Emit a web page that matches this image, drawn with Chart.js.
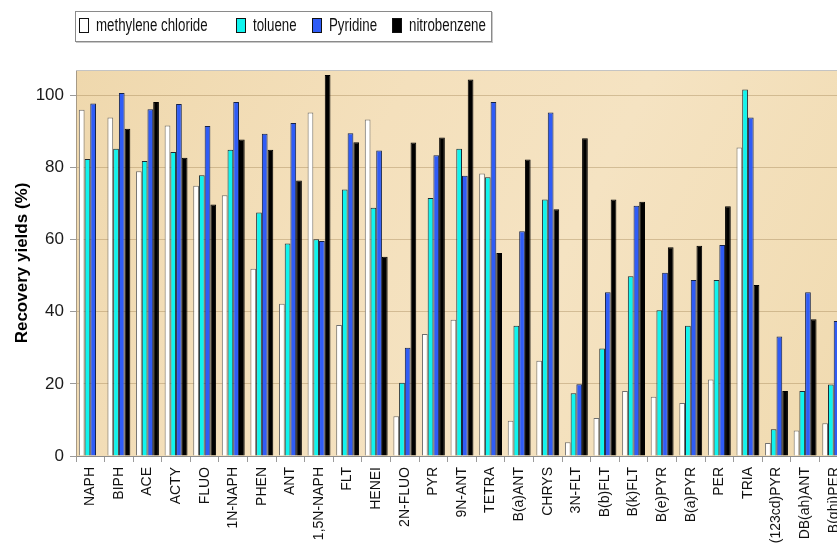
<!DOCTYPE html>
<html>
<head>
<meta charset="utf-8">
<script src="https://cdn.jsdelivr.net/npm/chart.js@4/dist/chart.umd.min.js"></script>
<style>
  html, body { margin: 0; padding: 0; background: #fff; overflow: hidden; }
  #wrap { position: relative; width: 860px; height: 556px; }
  #legend {
    position: absolute; left: 75px; top: 11px; width: 415px; height: 29px;
    border: 1px solid #8a8a8a; box-shadow: 1px 1px 0 #c8c8c8; background: #fff;
  }
  .item { position: absolute; top: 0; height: 29px; }
  .swatch { position: absolute; top: 6px; width: 8px; height: 13px; border: 1px solid #111; }
  .label {
    position: absolute; left: 17px; top: 3px; white-space: nowrap;
    font-family: "Liberation Sans", Arial, sans-serif; font-size: 17.5px; color: #111;
    transform: scaleX(0.76); transform-origin: left center;
  }
</style>
</head>
<body>
<div id="wrap">
  <canvas id="chart" width="860" height="556"></canvas>
  <div id="legend"></div>
</div>
<script>
// Compounds (x categories)
const categories = ["NAPH", "BIPH", "ACE", "ACTY", "FLUO", "1N-NAPH", "PHEN", "ANT", "1,5N-NAPH",
  "FLT", "HENEI", "2N-FLUO", "PYR", "9N-ANT", "TETRA", "B(a)ANT", "CHRYS", "3N-FLT", "B(b)FLT",
  "B(k)FLT", "B(e)PYR", "B(a)PYR", "PER", "TRIA", "(123cd)PYR", "DB(ah)ANT", "B(ghi)PER"];

// Recovery yields (%) per solvent
const methyleneChloride = [96, 93.8, 78.9, 91.6, 74.9, 72.3, 51.9, 42.2, 95.2,
  36.3, 93.3, 11, 33.8, 37.8, 78.3, 9.8, 26.4, 3.8, 10.5,
  18, 16.4, 14.7, 21.2, 85.5, 3.6, 7.1, 9.1];
const toluene = [82.3, 85.2, 81.8, 84.3, 77.8, 84.9, 67.5, 58.9, 60.1,
  73.9, 68.8, 20.3, 71.5, 85.2, 77.3, 36.1, 71.1, 17.4, 29.8,
  49.8, 40.4, 36.1, 48.8, 101.6, 7.4, 18, 19.8];
const pyridine = [97.7, 100.6, 96.1, 97.6, 91.5, 98.1, 89.3, 92.3, 59.6,
  89.5, 84.7, 30, 83.4, 77.7, 98.1, 62.3, 95.2, 19.9, 45.4,
  69.4, 50.8, 48.8, 58.5, 93.8, 33.1, 45.4, 37.4];
const nitrobenzene = [null, 90.7, 98.1, 82.7, 69.7, 87.7, 84.9, 76.4, 105.6,
  87, 55.2, 86.9, 88.3, 104.4, 56.3, 82.2, 68.4, 88.1, 71.1,
  70.5, 57.9, 58.3, 69.2, 47.4, 18, 37.9, 30];

// Y axis ticks
const yTicks = [0, 20, 40, 60, 80, 100];

const seriesNames = ["methylene chloride", "toluene", "Pyridine", "nitrobenzene"];
const seriesValues = [methyleneChloride, toluene, pyridine, nitrobenzene];
const fills = ["#ffffff", "#10f4ee", "#2f5cf6", "#000000"];
const edges = ["#6f6f6f", "#1d2a33", "#14224a", "#000000"];

const datasets = seriesNames.map((name, i) => ({
  label: name,
  data: seriesValues[i],
  backgroundColor: fills[i],
  borderColor: edges[i],
  borderWidth: 1,
  categoryPercentage: 0.8,
  barPercentage: 1.0
}));

// Textured beige plot background and top frame line
const plotBackground = {
  id: "plotBackground",
  beforeDraw(chart) {
    const { ctx, chartArea: a } = chart;
    ctx.save();
    const g = ctx.createLinearGradient(a.left, a.top, a.right, a.bottom);
    g.addColorStop(0, "#efd8ad");
    g.addColorStop(0.35, "#f4e0bc");
    g.addColorStop(0.6, "#f5e3c2");
    g.addColorStop(1, "#f0daaf");
    ctx.fillStyle = g;
    ctx.fillRect(a.left, a.top, a.right - a.left, a.bottom - a.top);
    ctx.restore();
  },
  afterDraw(chart) {
    const { ctx, chartArea: a } = chart;
    ctx.save();
    ctx.strokeStyle = "#c4c4c4";
    ctx.lineWidth = 1;
    ctx.beginPath();
    ctx.moveTo(a.left, a.top + 0.5);
    ctx.lineTo(a.right, a.top + 0.5);
    ctx.stroke();
    ctx.restore();
  }
};

const chart = new Chart(document.getElementById("chart"), {
  type: "bar",
  data: { labels: categories, datasets },
  plugins: [plotBackground],
  options: {
    responsive: false,
    animation: false,
    devicePixelRatio: 1,
    layout: { padding: { top: 70, right: 12, bottom: 0, left: 0 } },
    plugins: { legend: { display: false }, tooltip: { enabled: false } },
    scales: {
      x: {
        grid: { display: true, offset: true, drawOnChartArea: false, drawTicks: true,
                tickLength: 6, tickColor: "#9a9a9a" },
        border: { display: true, color: "#8c8c8c" },
        ticks: {
          autoSkip: false, minRotation: 90, maxRotation: 90, padding: 5,
          color: "#111", font: { family: "'Liberation Sans', Arial, sans-serif", size: 14 }
        },
        afterFit(scale) { scale.height = 100; }
      },
      y: {
        min: 0, max: 107,
        afterBuildTicks(scale) { scale.ticks = yTicks.map(v => ({ value: v })); },
        grid: { color: "rgba(150,118,70,0.35)", tickLength: 6, tickColor: "#9a9a9a" },
        border: { display: true, color: "#a69a86" },
        ticks: {
          padding: 6, color: "#1a1a1a",
          font: { family: "'Liberation Sans', Arial, sans-serif", size: 17 }
        },
        title: {
          display: true, text: "Recovery yields (%)", color: "#000",
          font: { family: "'Liberation Sans', Arial, sans-serif", size: 17, weight: "bold" },
          padding: { top: 12, bottom: 0 }
        },
        afterFit(scale) { scale.width = 76; }
      }
    }
  }
});

// Legend built from the chart's datasets
const legendX = [3, 160, 236, 316];
const legend = document.getElementById("legend");
chart.data.datasets.forEach((ds, i) => {
  const item = document.createElement("div");
  item.className = "item";
  item.style.left = legendX[i] + "px";
  const sw = document.createElement("span");
  sw.className = "swatch";
  sw.style.background = ds.backgroundColor;
  const tx = document.createElement("span");
  tx.className = "label";
  tx.textContent = ds.label;
  item.appendChild(sw);
  item.appendChild(tx);
  legend.appendChild(item);
});
</script>
</body>
</html>
